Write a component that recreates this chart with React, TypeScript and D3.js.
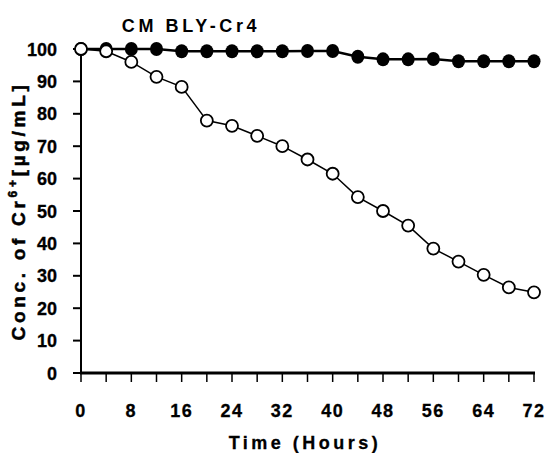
import React from "react";
import * as d3 from "d3";

const hours = [0, 4, 8, 12, 16, 20, 24, 28, 32, 36, 40, 44, 48, 52, 56, 60, 64, 68, 72];
const controlValues = [100, 100, 100, 100, 99.3, 99.3, 99.3, 99.3, 99.3, 99.4, 99.4, 97.6, 96.8, 96.8, 96.9, 96.2, 96.2, 96.2, 96.2];
const treatedValues = [100, 99.3, 96, 91.4, 88.3, 77.9, 76.3, 73.2, 70, 65.9, 61.5, 54.3, 50, 45.5, 38.4, 34.4, 30.3, 26.4, 24.9];
const xTickValues = [0, 4, 8, 12, 16, 20, 24, 28, 32, 36, 40, 44, 48, 52, 56, 60, 64, 68, 72];
const xLabelValues = [0, 8, 16, 24, 32, 40, 48, 56, 64, 72];
const yTickValues = [0, 10, 20, 30, 40, 50, 60, 70, 80, 90, 100];

const W = 547;
const H = 453;
const FONT = "'Liberation Sans', Arial, sans-serif";

export default function App() {
  const x = d3.scaleLinear().domain([0, 72]).range([81, 534]);
  const y = d3.scaleLinear().domain([0, 100]).range([373, 49]);
  const line = d3
    .line<[number, number]>()
    .x((d) => x(d[0]))
    .y((d) => y(d[1]));
  const ctrl: [number, number][] = hours.map((h, i) => [h, controlValues[i]]);
  const trt: [number, number][] = hours.map((h, i) => [h, treatedValues[i]]);

  return (
    <svg
      width={W}
      height={H}
      style={{ position: "absolute", left: 0, top: 0, background: "#fff" }}
      fontFamily={FONT}
    >
      <rect x={0} y={0} width={W} height={H} fill="#fff" />
      {/* title */}
      <text x={191} y={32} textAnchor="middle" fontSize={18} fontWeight="bold" letterSpacing={3.6} fill="#000">
        CM BLY-Cr4
      </text>
      {/* y axis */}
      <line x1={x(0)} x2={x(0)} y1={y(0)} y2={y(100)} stroke="#000" strokeWidth={2} />
      {yTickValues.map((v) => (
        <g key={"yt" + v}>
          <line x1={x(0) - 8} x2={x(0)} y1={y(v)} y2={y(v)} stroke="#000" strokeWidth={2} />
          <text x={57} y={y(v) + 6.5} textAnchor="end" fontSize={18} fontWeight="bold" fill="#000" stroke="#000" strokeWidth={0.3}>
            {v}
          </text>
        </g>
      ))}
      {/* x axis */}
      <line x1={x(0) - 1} x2={x(72) + 1} y1={y(0)} y2={y(0)} stroke="#000" strokeWidth={3} />
      {xTickValues.map((v) => (
        <line key={"xt" + v} x1={x(v)} x2={x(v)} y1={y(0)} y2={y(0) + 9} stroke="#000" strokeWidth={1.5} />
      ))}
      {xLabelValues.map((v) => (
        <text key={"xl" + v} x={x(v)} y={417} textAnchor="middle" fontSize={18} fontWeight="bold" letterSpacing={1.5} fill="#000" stroke="#000" strokeWidth={0.3}>
          {v}
        </text>
      ))}
      <text x={305} y={449} textAnchor="middle" fontSize={18} fontWeight="bold" letterSpacing={3.5} fill="#000" stroke="#000" strokeWidth={0.3}>
        Time (Hours)
      </text>
      {/* y label */}
      <text
        transform={`translate(25,211) rotate(-90)`}
        textAnchor="middle"
        fontSize={19}
        fontWeight="bold"
        letterSpacing={3.7}
        fill="#000"
        stroke="#000"
        strokeWidth={0.5}
      >
        Conc. of Cr<tspan fontSize={12} dy={-8}>6+</tspan>
        <tspan dy={8}>[µg/mL]</tspan>
      </text>
      {/* control series */}
      <path d={line(ctrl) || ""} fill="none" stroke="#000" strokeWidth={2.5} />
      {ctrl.map((d, i) => (
        <ellipse key={"c" + i} cx={x(d[0])} cy={y(d[1])} rx={6.5} ry={7} fill="#000" />
      ))}
      {/* treated series */}
      <path d={line(trt) || ""} fill="none" stroke="#000" strokeWidth={1.5} />
      {trt.map((d, i) => (
        <circle key={"t" + i} cx={x(d[0])} cy={y(d[1])} r={6} fill="#fff" stroke="#000" strokeWidth={1.8} />
      ))}
    </svg>
  );
}
